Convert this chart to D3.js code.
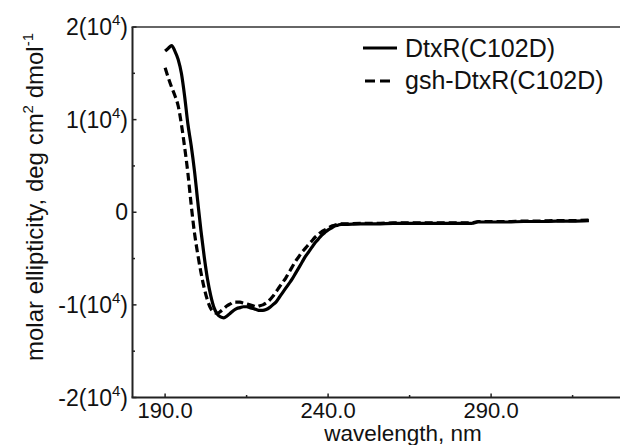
<!DOCTYPE html>
<html><head><meta charset="utf-8">
<script src="https://cdn.jsdelivr.net/npm/d3@7/dist/d3.min.js"></script>
<style>body{margin:0;background:#fff}svg{display:block}text{font-family:"Liberation Sans",Arial,Helvetica,sans-serif;fill:#111}</style>
</head><body><svg id="c" width="620" height="445"></svg>
<script>
// wavelength (nm)
const wavelengths = [190,191,192,193,194,195,196,197,198,199,200,201,202,203,204,205,206,207,208,209,210,211,212,213,214,215,216,217,218,219,220,221,222,223,224,225,226,227,228,229,230,231,232,233,234,235,236,237,238,239,240,241,242,243,244,245,250,255,260,265,270,275,280,284,286,290,295,300,305,310,315,320];
// molar ellipticity (deg cm^2 dmol^-1)
const dtxr = [17400,17700,18000,17400,16500,15000,12500,9500,7200,4500,1200,-2000,-4800,-7200,-9000,-10300,-11000,-11300,-11400,-11200,-10900,-10600,-10400,-10300,-10200,-10200,-10300,-10400,-10500,-10600,-10600,-10500,-10300,-10000,-9700,-9200,-8700,-8200,-7700,-7200,-6600,-6000,-5400,-4800,-4300,-3800,-3300,-2900,-2500,-2200,-1900,-1700,-1500,-1400,-1300,-1300,-1250,-1250,-1200,-1200,-1200,-1200,-1200,-1200,-1050,-1050,-1050,-1000,-1000,-950,-950,-900];
const gshDtxr = [15600,14500,13500,12600,11500,9500,7000,4200,800,-2200,-4500,-6500,-8200,-9500,-10400,-10800,-10900,-10700,-10400,-10100,-9900,-9700,-9700,-9700,-9800,-9900,-10000,-10100,-10200,-10100,-10000,-9800,-9500,-9100,-8600,-8100,-7600,-7100,-6500,-5900,-5300,-4800,-4300,-3900,-3500,-3100,-2700,-2400,-2100,-1900,-1700,-1500,-1400,-1300,-1250,-1250,-1200,-1200,-1150,-1150,-1150,-1150,-1150,-1150,-1000,-1000,-1000,-950,-950,-900,-900,-850];
const xTicks = [190,240,290];
const xTickLabels = ["190.0","240.0","290.0"];
const xMinor = [215,265,315];
const yTicks = [20000,10000,0,-10000,-20000];
const yTickLabels = [["2(10","4",")"],["1(10","4",")"],["0","",""],["-1(10","4",")"],["-2(10","4",")"]];
const yMinor = [15000,5000,-5000,-15000];
const seriesNames = ["DtxR(C102D)","gsh-DtxR(C102D)"];

const svg = d3.select("#c");
const x = d3.scaleLinear().domain([180,330]).range([132.5,621.5]);
const y = d3.scaleLinear().domain([-20000,20000]).range([397.5,27]);
const L = 132.5, T = 27, B = 397.5;

// frame
svg.append("line").attr("x1",L).attr("x2",L).attr("y1",T).attr("y2",B).attr("stroke","#222").attr("stroke-width",2);
svg.append("line").attr("x1",L-1).attr("x2",620).attr("y1",T).attr("y2",T).attr("stroke","#333").attr("stroke-width",1.6);
svg.append("line").attr("x1",L-1).attr("x2",620).attr("y1",B).attr("y2",B).attr("stroke","#222").attr("stroke-width",2);

// x ticks
const xAx = svg.append("g");
xAx.selectAll("line.maj").data(xTicks).join("line").attr("class","maj").attr("x1",d=>x(d)).attr("x2",d=>x(d)).attr("y1",B).attr("y2",B-4).attr("stroke","#222").attr("stroke-width",1.5);
xAx.selectAll("line.min").data(xMinor).join("line").attr("class","min").attr("x1",d=>x(d)).attr("x2",d=>x(d)).attr("y1",B).attr("y2",B-2.5).attr("stroke","#222").attr("stroke-width",1.5);
xAx.selectAll("text").data(xTicks).join("text").attr("x",d=>x(d)).attr("y",418).attr("text-anchor","middle").attr("font-size",22).text((d,i)=>xTickLabels[i]);
svg.append("text").attr("x",403).attr("y",440.5).attr("text-anchor","middle").attr("font-size",22.5).text("wavelength, nm");

// y ticks
const yAx = svg.append("g");
yAx.selectAll("line.maj").data(yTicks).join("line").attr("class","maj").attr("x1",L).attr("x2",L+4).attr("y1",d=>y(d)).attr("y2",d=>y(d)).attr("stroke","#222").attr("stroke-width",1.5);
yAx.selectAll("line.min").data(yMinor).join("line").attr("class","min").attr("x1",L).attr("x2",L+2.5).attr("y1",d=>y(d)).attr("y2",d=>y(d)).attr("stroke","#222").attr("stroke-width",1.5);
const yt = yAx.selectAll("text").data(yTicks).join("text").attr("x",128).attr("y",d=>y(d)+8).attr("text-anchor","end").attr("font-size",23);
yt.each(function(d,i){
  const t = d3.select(this), p = yTickLabels[i];
  t.append("tspan").text(p[0]);
  if (p[1]) { t.append("tspan").attr("dy",-10).attr("font-size",15).text(p[1]); t.append("tspan").attr("dy",10).text(p[2]); }
});

// y title
const yTitle = svg.append("text").attr("transform","translate(43,197) rotate(-90)").attr("text-anchor","middle").attr("font-size",24);
yTitle.append("tspan").text("molar ellipticity, deg cm");
yTitle.append("tspan").attr("dy",-10).attr("font-size",15).text("2");
yTitle.append("tspan").attr("dy",10).text(" dmol");
yTitle.append("tspan").attr("dy",-10).attr("font-size",15).text("-1");

// curves
const line = d3.line().x((d,i)=>x(wavelengths[i])).y(d=>y(d)).curve(d3.curveMonotoneX);
svg.append("path").attr("d",line(gshDtxr)).attr("fill","none").attr("stroke","#000").attr("stroke-width",3.2).attr("stroke-dasharray","8,4");
svg.append("path").attr("d",line(dtxr)).attr("fill","none").attr("stroke","#000").attr("stroke-width",3.2).attr("stroke-linejoin","round");

// legend
const lg = svg.append("g");
lg.append("line").attr("x1",363).attr("x2",397).attr("y1",48).attr("y2",48).attr("stroke","#000").attr("stroke-width",3.2);
lg.append("line").attr("x1",365).attr("x2",390).attr("y1",81).attr("y2",81).attr("stroke","#000").attr("stroke-width",3.2).attr("stroke-dasharray","10,5");
lg.append("text").attr("x",405).attr("y",57).attr("font-size",25).text(seriesNames[0]);
lg.append("text").attr("x",405).attr("y",89).attr("font-size",25).text(seriesNames[1]);
</script></body></html>
